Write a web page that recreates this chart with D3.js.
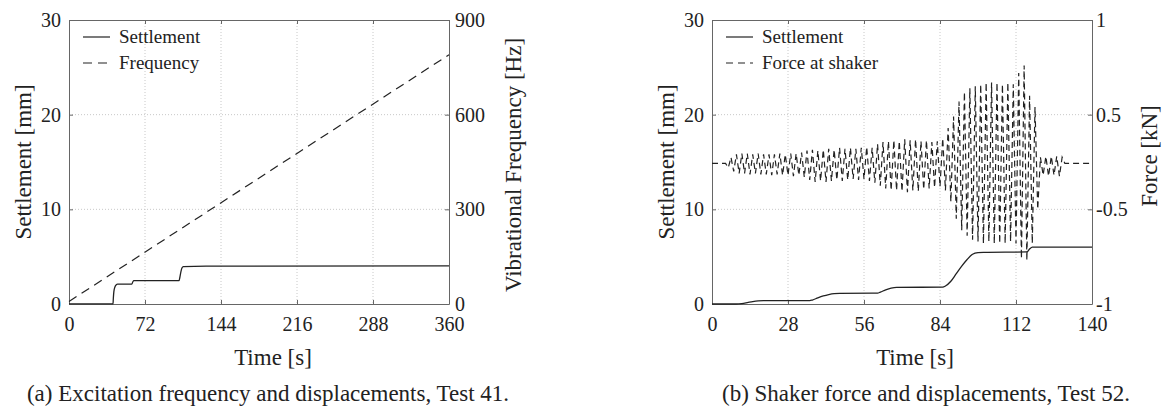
<!DOCTYPE html>
<html>
<head>
<meta charset="utf-8">
<script src="https://cdn.jsdelivr.net/npm/d3@7"></script>
<style>
  body { margin: 0; background: #fff; }
  svg text { font-family: "Liberation Serif", "Times New Roman", serif; fill: #222; }
</style>
</head>
<body>
<div id="chart"></div>
<script>
// ---- data ----
// (a) Test 41
const leftXTicks = [0, 72, 144, 216, 288, 360];
const settleTicks = [0, 10, 20, 30];
const freqTicks = [0, 300, 600, 900];
const leftTime = [0, 41.7, 42, 42.5, 43.5, 45, 46, 59.5, 60.5, 61.5, 104.2, 105, 106, 107, 108.3, 130, 360];
const leftSettlement = [0.02, 0.02, 0.6, 1.3, 1.8, 2.05, 2.1, 2.1, 2.35, 2.46, 2.46, 2.8, 3.4, 3.8, 3.95, 4.0, 4.02];
const freqTime = [0, 360];
const freqValue = [8, 790];

// (b) Test 52
const rightXTicks = [0, 28, 56, 84, 112, 140];
const forceTicks = [-1, -0.5, 0.5, 1];
const rightTime = [0, 9, 11, 13, 15, 17, 19, 36, 37, 39, 41, 43, 45, 47, 61, 62, 64, 66, 68, 85, 86, 88, 90, 92, 94, 96, 98, 100, 116, 117, 118, 140];
const rightSettlement = [0, 0, 0.05, 0.15, 0.26, 0.33, 0.35, 0.35, 0.42, 0.65, 0.85, 1.0, 1.1, 1.13, 1.15, 1.25, 1.5, 1.68, 1.76, 1.78, 1.9, 2.4, 3.2, 4.0, 4.7, 5.25, 5.42, 5.45, 5.5, 5.8, 6.0, 6.0];
// turning points of the shaker force signal [kN]
const forceTime = [0,
  5, 6, 7, 8, 9, 10, 11, 12, 13, 14, 15, 16, 17, 18, 19, 20, 21, 22, 23, 24,
  25, 26, 27, 28, 29, 30, 31, 32, 33, 34, 35, 36, 37, 38, 39, 40, 41, 42, 43, 44,
  45, 46, 47, 48, 49, 50, 51, 52, 53, 54, 55, 56, 57, 58, 59, 60, 61, 62, 63, 64,
  65, 66, 67, 68, 69, 70, 71, 72, 73, 74, 75, 76, 77, 78, 79, 80, 81, 82, 83, 84,
  85, 86, 87, 88, 89, 90, 91, 92, 93, 94, 95, 96, 97, 98, 99, 100, 101, 102, 103, 104,
  105, 106, 107, 108, 109, 110, 111, 112, 113, 114, 115, 116, 117, 118, 119, 120, 121, 122, 123, 124,
  125, 126, 127, 128, 129, 130,
  140];
const forceValue = [-0.015,
  -0.015, -0.06, 0.05, -0.1, 0.08, -0.12, 0.09, -0.12, 0.09, -0.13, 0.08, -0.12, 0.09, -0.13, 0.08, -0.13, 0.08, -0.14, 0.08, -0.13,
  0.09, -0.14, 0.08, -0.14, 0.09, -0.15, 0.09, -0.14, 0.1, -0.16, 0.12, -0.19, 0.13, -0.21, 0.12, -0.2, 0.13, -0.21, 0.14, -0.2,
  0.13, -0.19, 0.15, -0.2, 0.14, -0.19, 0.15, -0.18, 0.14, -0.19, 0.15, -0.18, 0.16, -0.2, 0.15, -0.22, 0.19, -0.25, 0.21, -0.28,
  0.22, -0.3, 0.23, -0.3, 0.22, -0.31, 0.24, -0.32, 0.23, -0.3, 0.24, -0.31, 0.22, -0.29, 0.23, -0.28, 0.21, -0.27, 0.22, -0.26,
  0.25, -0.3, 0.36, -0.42, 0.48, -0.55, 0.57, -0.61, 0.62, -0.64, 0.64, -0.66, 0.65, -0.67, 0.66, -0.68, 0.67, -0.67, 0.67, -0.68,
  0.67, -0.68, 0.66, -0.68, 0.67, -0.67, 0.66, -0.68, 0.72, -0.76, 0.76, -0.77, 0.6, -0.68, 0.54, -0.5, 0.05, -0.14, 0.06, -0.15,
  0.06, -0.14, 0.06, -0.15, 0.05, -0.015,
  -0.015];

const W = 1163, H = 407;
const plotTop = 20, plotBottom = 304;
const ink = "#222", frame = "#666", grid = "#c8c8c8";

const svg = d3.select("#chart").append("svg")
    .attr("width", W)
    .attr("height", H);

svg.append("rect").attr("width", W).attr("height", H).attr("fill", "#fff");

function drawPanel(opt) {
    const g = svg.append("g");
    const x = opt.x, y = opt.y, y2 = opt.y2;
    const [x0, x1] = x.range();

    // grid
    g.selectAll(".gx").data(opt.xTicks.slice(1, -1)).enter().append("line")
        .attr("x1", d => x(d)).attr("x2", d => x(d))
        .attr("y1", plotTop).attr("y2", plotBottom)
        .attr("stroke", grid).attr("stroke-dasharray", "1,2");
    g.selectAll(".gy").data(opt.yTicks.slice(1, -1)).enter().append("line")
        .attr("x1", x0).attr("x2", x1)
        .attr("y1", d => y(d)).attr("y2", d => y(d))
        .attr("stroke", grid).attr("stroke-dasharray", "1,2");

    // axes
    const ax = [
        g.append("g").attr("transform", `translate(0,${plotBottom})`)
            .call(d3.axisBottom(x).tickValues(opt.xTicks).tickSizeInner(-4).tickSizeOuter(0).tickPadding(13)),
        g.append("g").attr("transform", `translate(0,${plotTop})`)
            .call(d3.axisTop(x).tickValues(opt.xTicks).tickSizeInner(-4).tickSizeOuter(0).tickFormat("")),
        g.append("g").attr("transform", `translate(${x0},0)`)
            .call(d3.axisLeft(y).tickValues(opt.yTicks).tickSizeInner(-4).tickSizeOuter(0).tickPadding(8)),
        g.append("g").attr("transform", `translate(${x1},0)`)
            .call(d3.axisRight(y2).tickValues(opt.y2Ticks).tickSizeInner(-4).tickSizeOuter(0)
                .tickPadding(opt.y2Pad).tickFormat(opt.y2Format))
    ];
    ax.forEach(a => {
        a.select(".domain").attr("stroke", frame);
        a.selectAll(".tick line").attr("stroke", frame);
        a.selectAll(".tick text").attr("font-size", 20)
            .style("font-family", '"Liberation Serif", serif').attr("fill", ink);
    });

    // series
    opt.series.forEach(s => {
        g.append("path")
            .datum(d3.range(s.t.length))
            .attr("d", d3.line().curve(s.curve || d3.curveLinear)
                .x(i => x(s.t[i])).y(i => s.scale(s.v[i])))
            .attr("fill", "none")
            .attr("stroke", ink)
            .attr("stroke-width", s.width || 1.3)
            .attr("stroke-dasharray", s.dash || null);
    });

    // legend
    const lg = g.append("g").attr("transform", `translate(${x0 + 14},${plotTop + 17})`);
    opt.legend.forEach((d, i) => {
        lg.append("line").attr("x1", 0).attr("x2", 27)
            .attr("y1", i * 26).attr("y2", i * 26)
            .attr("stroke", ink).attr("stroke-width", 1.2)
            .attr("stroke-dasharray", d.dash || null);
        lg.append("text").attr("x", 36).attr("y", i * 26).attr("dy", "0.32em")
            .attr("font-size", 19).text(d.label);
    });

    // labels
    g.append("text").attr("x", opt.xLabelX).attr("y", 365)
        .attr("text-anchor", "middle").attr("font-size", 23).text("Time [s]");
    g.append("text").attr("transform", `translate(${x0 - 38},162) rotate(-90)`)
        .attr("text-anchor", "middle").attr("font-size", 23).text("Settlement [mm]");
    g.append("text").attr("transform", `translate(${opt.y2LabelX},${opt.y2LabelY}) rotate(-90)`)
        .attr("text-anchor", "middle").attr("font-size", 23).text(opt.y2Label);
    g.append("text").attr("x", opt.captionX).attr("y", 401)
        .attr("text-anchor", "middle").attr("font-size", 23).text(opt.caption);
}

// (a)
const xa = d3.scaleLinear().domain([0, 360]).range([69, 449]);
const ya = d3.scaleLinear().domain([0, 30]).range([plotBottom, plotTop]);
const fa = d3.scaleLinear().domain([0, 900]).range([plotBottom, plotTop]);
drawPanel({
    x: xa, y: ya, y2: fa,
    xTicks: leftXTicks, yTicks: settleTicks, y2Ticks: freqTicks, y2Pad: 6,
    y2Format: d => d,
    series: [
        { t: freqTime, v: freqValue, scale: fa, dash: "9,6", width: 1.2 },
        { t: leftTime, v: leftSettlement, scale: ya, curve: d3.curveMonotoneX }
    ],
    legend: [{ label: "Settlement" }, { label: "Frequency", dash: "9,6" }],
    xLabelX: 273, y2Label: "Vibrational Frequency [Hz]", y2LabelX: 521, y2LabelY: 165,
    caption: "(a) Excitation frequency and displacements, Test 41.", captionX: 268
});

// (b)
const xb = d3.scaleLinear().domain([0, 140]).range([712, 1092]);
const yb = d3.scaleLinear().domain([0, 30]).range([plotBottom, plotTop]);
// force axis: labels sit on the settlement grid lines (20 mm -> 0.5, 10 mm -> -0.5)
const fb = d3.scaleLinear().domain(forceTicks).range([yb(0), yb(10), yb(20), yb(30)]);
drawPanel({
    x: xb, y: yb, y2: fb,
    xTicks: rightXTicks, yTicks: settleTicks, y2Ticks: forceTicks, y2Pad: 4,
    y2Format: d => String(d).replace("\u2212", "-"),
    series: [
        { t: forceTime, v: forceValue, scale: fb, dash: "6,4", width: 1.2 },
        { t: rightTime, v: rightSettlement, scale: yb, curve: d3.curveMonotoneX }
    ],
    legend: [{ label: "Settlement" }, { label: "Force at shaker", dash: "7,5" }],
    xLabelX: 915, y2Label: "Force [kN]", y2LabelX: 1157, y2LabelY: 156,
    caption: "(b) Shaker force and displacements, Test 52.", captionX: 926
});
</script>
</body>
</html>
